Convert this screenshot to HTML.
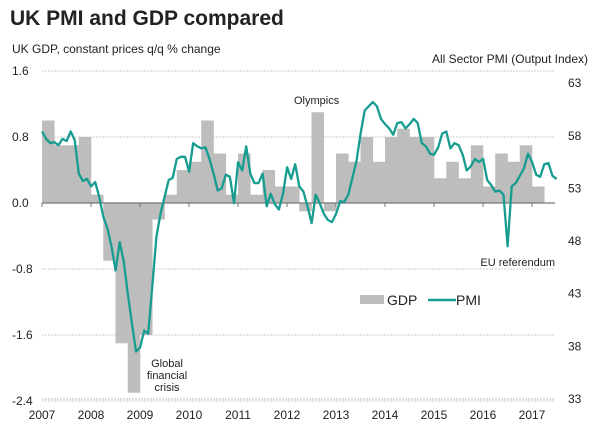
<!DOCTYPE html>
<html><head><meta charset="utf-8"><style>
body{margin:0;background:#fff;}
svg{display:block;font-family:"Liberation Sans",sans-serif;}
</style></head><body>
<svg id="chart" width="600" height="438" viewBox="0 0 600 438">
<text x="10" y="25" font-size="21" font-weight="bold" fill="#222">UK PMI and GDP compared</text>
<text x="12" y="53" font-size="12" fill="#222">UK GDP, constant prices q/q % change</text>
<text x="588" y="63" font-size="12" fill="#222" text-anchor="end">All Sector PMI (Output Index)</text>
<g id="grid"></g><g id="bars"></g><g id="axes"></g><g id="line"></g>
<text x="294" y="104" font-size="11" fill="#222">Olympics</text>
<text x="167" y="367" font-size="11" fill="#222" text-anchor="middle"><tspan x="167">Global</tspan><tspan x="167" dy="12">financial</tspan><tspan x="167" dy="12">crisis</tspan></text>
<text x="555" y="266" font-size="11" fill="#222" text-anchor="end">EU referendum</text>
<g>
<rect x="360" y="295" width="24" height="9" fill="#bdbdbd"/>
<text x="387" y="305" font-size="14" fill="#222">GDP</text>
<line x1="428" y1="300" x2="456" y2="300" stroke="#169d90" stroke-width="2.5"/>
<text x="456" y="305" font-size="14" fill="#222">PMI</text>
</g>
</svg>
<script>
const gdp=[1.0,0.7,0.7,0.8, 0.1,-0.7,-1.7,-2.3, -1.6,-0.2,0.1,0.4, 0.5,1.0,0.6,0.1, 0.6,0.1,0.4,0.2, 0.2,-0.1,1.1,-0.1, 0.6,0.5,0.8,0.5, 0.8,0.9,0.8,0.8, 0.3,0.5,0.3,0.7, 0.2,0.6,0.5,0.7, 0.2];
const pmi=[58.4,57.7,57.3,57.4,57.1,57.7,57.5,58.4,57.6,54.4,53.7,53.9,
53.2,53.6,52.2,50.3,49.2,47.5,45.2,47.9,46.1,43.0,40.2,37.5,
37.9,39.5,39.2,43.7,48.4,50.6,52.2,53.8,54.0,55.8,56.0,56.0,
54.6,57.3,57.0,56.8,56.9,55.8,54.4,52.8,53.0,54.3,54.1,51.6,
55.5,54.7,57.0,54.4,53.5,53.5,54.4,51.3,52.5,51.5,51.0,52.5,
55.0,53.9,55.3,53.2,52.7,51.3,49.7,52.4,51.6,50.6,50.0,49.8,
50.6,51.8,51.7,52.4,54.0,55.6,58.2,60.4,60.8,61.2,60.8,59.6,
59.1,58.7,58.1,59.2,59.3,58.7,59.1,59.6,59.2,57.3,57.0,56.3,
56.2,56.9,58.2,58.4,56.8,57.3,57.1,56.2,54.7,55.1,55.8,55.5,
55.8,53.8,53.3,52.7,52.8,52.4,47.5,53.2,53.5,54.2,54.9,56.3,
55.5,54.3,54.1,55.3,55.4,54.2,53.9];
const gdpTicks=[1.6,0.8,0.0,-0.8,-1.6,-2.4];
const pmiTicks=[63,58,53,48,43,38,33];
const years=[2007,2008,2009,2010,2011,2012,2013,2014,2015,2016,2017];
const NS="http://www.w3.org/2000/svg";
const X0=42, YEARW=49;
const xT=t=>X0+t*YEARW; // t in years since 2007
const yG=v=>203-v*82.5;
const yP=v=>399-(v-33)*10.53;
function mk(tag,attrs,parent){const e=document.createElementNS(NS,tag);for(const k in attrs)e.setAttribute(k,attrs[k]);parent.appendChild(e);return e;}
const grid=document.getElementById('grid'),bars=document.getElementById('bars'),axes=document.getElementById('axes'),lineG=document.getElementById('line');
gdpTicks.forEach(v=>{
 if(v!==0){const l=mk('line',{x1:X0,x2:555,y1:yG(v),y2:yG(v),stroke:'#ccc','stroke-width':1,'stroke-dasharray':'2,1'},grid);
 
 }
 const t=mk('text',{x:12,y:yG(v)+4,'font-size':12,fill:'#222'},axes);t.textContent=v.toFixed(1);
 
 
});
pmiTicks.forEach(v=>{
 const t=mk('text',{x:568,y:yP(v)+4,'font-size':12,fill:'#222'},axes);t.textContent=v;
 
 
});
const qw=YEARW/4;
gdp.forEach((v,i)=>{
 const x=xT(i/4),y=Math.min(yG(v),yG(0)),h=Math.abs(yG(v)-yG(0));
 const r=mk('rect',{x:x,y:y,width:qw+0.3,height:h,fill:'#bdbdbd'},bars);
 
 
});
const zl=mk('line',{x1:X0,x2:555,y1:yG(0),y2:yG(0),stroke:'#777','stroke-width':1.2},axes);


const bl=mk('line',{x1:X0,x2:555,y1:399,y2:399,stroke:'#bbb','stroke-width':1,'stroke-dasharray':'2,1'},axes);


years.forEach((yr,i)=>{
 const tk=mk('line',{x1:xT(i),x2:xT(i),y1:yG(0),y2:yG(0)+4,stroke:'#777'},axes);
 
 
 const t=mk('text',{x:xT(i),y:419,'font-size':12,fill:'#222','text-anchor':'middle'},axes);t.textContent=yr;
 
 
});
const pts=pmi.map((v,i)=>xT(i/12+1/24-0.04).toFixed(1)+','+yP(v).toFixed(1)).join(' ');
const pl=mk('polyline',{points:pts,fill:'none',stroke:'#169d90','stroke-width':2.3,'stroke-linejoin':'round'},lineG);


</script>
</body></html>
